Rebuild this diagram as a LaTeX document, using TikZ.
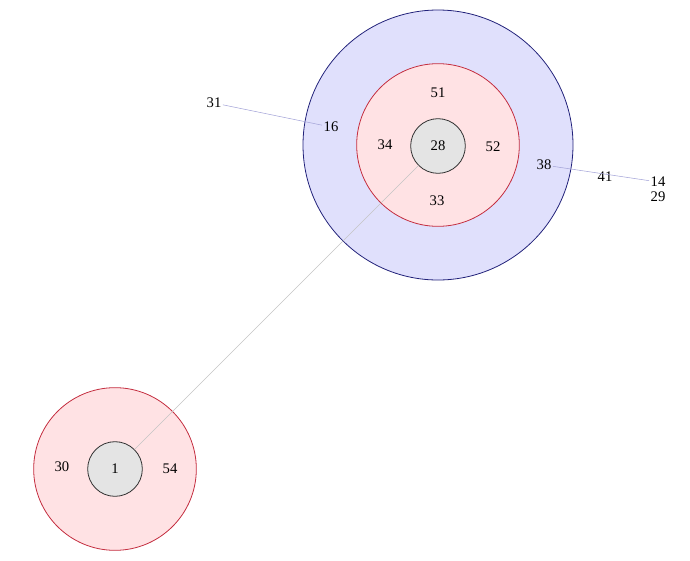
\documentclass[tikz,border=0pt]{standalone}
\usepackage{fontspec}
\setmainfont{Liberation Serif}
\usepackage{tikz}
\usetikzlibrary{positioning}
\definecolor{ringBlue}{HTML}{E0E0FC}
\definecolor{ringBlueLine}{HTML}{22227A}
\definecolor{ringRed}{HTML}{FFE2E4}
\definecolor{ringRedLine}{HTML}{C42E40}
\definecolor{coreGray}{HTML}{E4E4E4}
\definecolor{coreLine}{HTML}{303030}
\definecolor{linkGray}{HTML}{C4C4C4}
\definecolor{linkBlue}{HTML}{A4A4D8}
\tikzset{
  outerRing/.style={
    circle,
    draw=ringBlueLine,
    fill=ringBlue,
    semithick,
    inner sep=0pt,
    minimum size=202.5pt
  },
  midRing/.style={
    circle,
    draw=ringRedLine,
    fill=ringRed,
    semithick,
    inner sep=0pt,
    minimum size=122pt
  },
  coreNode/.style={
    circle,
    draw=coreLine,
    fill=coreGray,
    semithick,
    inner sep=0pt,
    minimum size=41pt
  },
  leafNode/.style={
    inner sep=1pt
  },
  linkLine/.style={draw=linkGray, thin},
  linkBlueLine/.style={draw=linkBlue, thin}
}

\begin{document}
\begin{tikzpicture}[x=0.75pt, y=-0.75pt, font=\fontsize{11}{13}\selectfont]
  \useasboundingbox (0,0) rectangle (690,561);

  % rings
  \node[outerRing] (ringTop) at (438,145) {};
  \node[midRing] (redTop) at (438,145) {};
  \node[midRing] (redBottom) at (115,469) {};

  % cores
  \node[coreNode] (c28) at (438,146) {28};
  \node[coreNode] (c1) at (115,469) {1};
  \draw[linkLine] (c1) -- (c28);

  % members
  \node[leafNode] (n51) at (438,93) {51};
  \node[leafNode] (n34) at (385,145) {34};
  \node[leafNode] (n52) at (493,147) {52};
  \node[leafNode] (n33) at (437,201) {33};
  \node[leafNode] (n30) at (62,467) {30};
  \node[leafNode] (n54) at (170,469) {54};

  % outliers
  \node[leafNode] (n31) at (214,103) {31};
  \node[leafNode] (n16) at (331,127) {16};
  \node[leafNode] (n38) at (544,165) {38};
  \node[leafNode] (n41) at (605,177) {41};
  \node[leafNode] (n14) at (658,182) {14};
  \node[leafNode] (n29) at (658,197) {29};
  \draw[linkBlueLine] (n31) -- (n16);
  \draw[linkBlueLine] (n38) -- (n14);
\end{tikzpicture}
\end{document}
